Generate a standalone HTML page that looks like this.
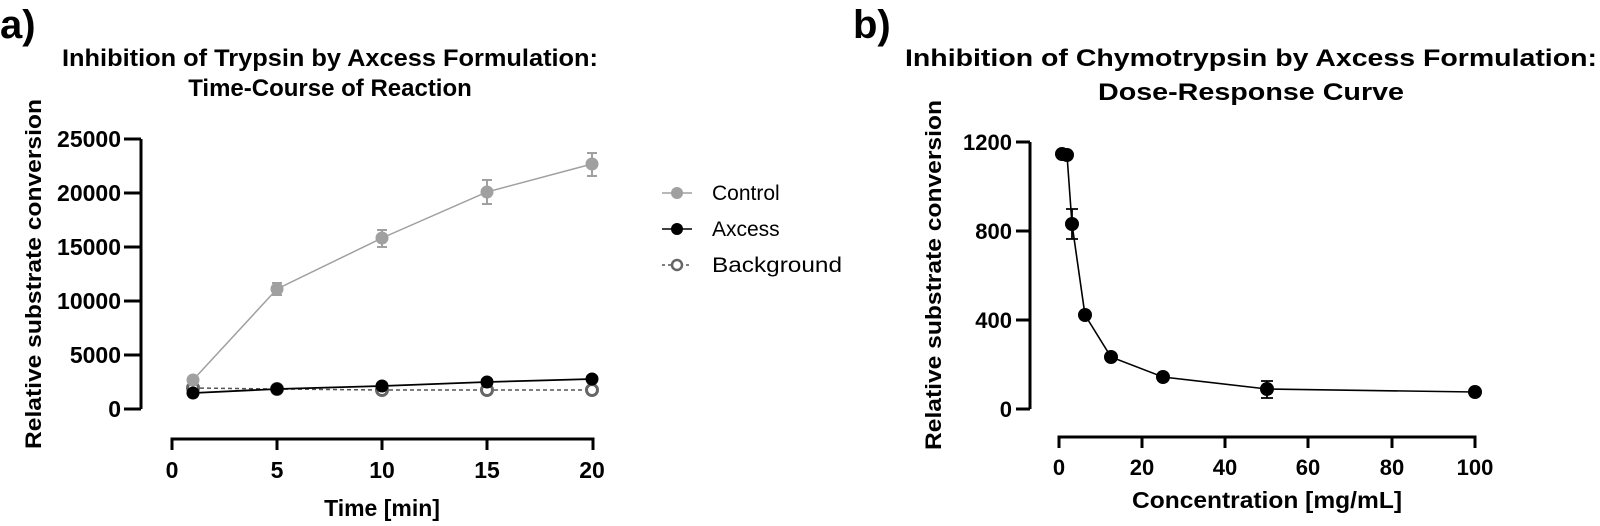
<!DOCTYPE html>
<html><head><meta charset="utf-8"><style>
html,body{margin:0;padding:0;background:#fff;}
svg{display:block;}
text{font-family:"Liberation Sans",Arial,sans-serif;}
.b{font-weight:bold;}
</style></head><body>
<svg width="1600" height="526" viewBox="0 0 1600 526" xmlns="http://www.w3.org/2000/svg">
<text x="0" y="38" class="b" font-size="40">a)</text>
<text x="853" y="38" class="b" font-size="40">b)</text>

<text x="330" y="66" class="b" font-size="24" text-anchor="middle" textLength="536" lengthAdjust="spacingAndGlyphs">Inhibition of Trypsin by Axcess Formulation:</text>
<text x="330" y="96" class="b" font-size="24" text-anchor="middle">Time-Course of Reaction</text>

<g stroke="#000" stroke-width="3" fill="none">
<path d="M141 139 V409"/>
<path d="M124 139 H141 M124 193 H141 M124 247 H141 M124 301 H141 M124 355 H141 M124 409 H141"/>
<path d="M172 450 V439 H593 V450 M277 439 V450 M382 439 V450 M487 439 V450"/>
</g>
<g font-size="23" text-anchor="end" font-weight="bold">
<text x="121" y="147">25000</text>
<text x="121" y="201">20000</text>
<text x="121" y="255">15000</text>
<text x="121" y="309">10000</text>
<text x="121" y="363">5000</text>
<text x="121" y="417">0</text>
</g>
<g font-size="23" text-anchor="middle" font-weight="bold">
<text x="172" y="478">0</text>
<text x="277" y="478">5</text>
<text x="382" y="478">10</text>
<text x="487" y="478">15</text>
<text x="592" y="478">20</text>
<text x="382" y="516" font-size="23">Time [min]</text>
</g>
<text transform="translate(41,274) rotate(-90)" font-size="22" font-weight="bold" text-anchor="middle" textLength="350" lengthAdjust="spacingAndGlyphs">Relative substrate conversion</text>

<polyline points="193,388 277,389 382,390 487,390 592,390" fill="none" stroke="#555" stroke-width="1.5" stroke-dasharray="4,3"/>
<g fill="#fff" stroke="#666" stroke-width="3">
<circle cx="193" cy="388" r="5.5"/><circle cx="277" cy="389" r="5.5"/><circle cx="382" cy="390" r="5.5"/><circle cx="487" cy="390" r="5.5"/><circle cx="592" cy="390" r="5.5"/>
</g>
<g stroke="#a0a0a0" stroke-width="2" fill="none">
<path d="M277 283 V295 M272 283 H282 M272 295 H282"/>
<path d="M382 230 V247 M377 230 H387 M377 247 H387"/>
<path d="M487 180 V204 M482 180 H492 M482 204 H492"/>
<path d="M592 153 V176 M587 153 H597 M587 176 H597"/>
<polyline points="193,380 277,289 382,238 487,192 592,164" stroke-width="1.5"/>
</g>
<g fill="#a0a0a0">
<circle cx="193" cy="380" r="6.5"/><circle cx="277" cy="289" r="6.5"/><circle cx="382" cy="238" r="6.5"/><circle cx="487" cy="192" r="6.5"/><circle cx="592" cy="164" r="6.5"/>
</g>
<polyline points="193,393 277,389 382,386 487,382 592,379" fill="none" stroke="#000" stroke-width="1.8"/>
<g fill="#000">
<circle cx="193" cy="393" r="6.5"/><circle cx="277" cy="389" r="6.5"/><circle cx="382" cy="386" r="6.5"/><circle cx="487" cy="382" r="6.5"/><circle cx="592" cy="379" r="6.5"/>
</g>

<path d="M662 193 H692" stroke="#a0a0a0" stroke-width="1.5"/><circle cx="677" cy="193" r="6" fill="#a0a0a0"/>
<path d="M662 229 H692" stroke="#000" stroke-width="1.5"/><circle cx="677" cy="229" r="6" fill="#000"/>
<path d="M662 265 H692" stroke="#555" stroke-width="1.5" stroke-dasharray="3,3"/><circle cx="677" cy="265" r="5" fill="#fff" stroke="#666" stroke-width="2.5"/>
<g font-size="21">
<text x="712" y="200">Control</text>
<text x="712" y="236">Axcess</text>
<text x="712" y="272" textLength="130" lengthAdjust="spacingAndGlyphs">Background</text>
</g>

<text x="1251" y="66" class="b" font-size="24" text-anchor="middle" textLength="692" lengthAdjust="spacingAndGlyphs">Inhibition of Chymotrypsin by Axcess Formulation:</text>
<text x="1251" y="100" class="b" font-size="24" text-anchor="middle" textLength="306" lengthAdjust="spacingAndGlyphs">Dose-Response Curve</text>

<g stroke="#000" stroke-width="3" fill="none">
<path d="M1030 142 V409"/>
<path d="M1016 142 H1030 M1016 231 H1030 M1016 320 H1030 M1016 409 H1030"/>
<path d="M1059 448 V437 H1475 V448 M1142 437 V448 M1225 437 V448 M1308 437 V448 M1392 437 V448"/>
</g>
<g font-size="22" text-anchor="end" font-weight="bold">
<text x="1012" y="150">1200</text>
<text x="1012" y="239">800</text>
<text x="1012" y="328">400</text>
<text x="1012" y="417">0</text>
</g>
<g font-size="22" text-anchor="middle" font-weight="bold">
<text x="1059" y="475">0</text>
<text x="1142" y="475">20</text>
<text x="1225" y="475">40</text>
<text x="1308" y="475">60</text>
<text x="1392" y="475">80</text>
<text x="1475" y="475">100</text>
<text x="1267" y="508" font-size="23" textLength="270" lengthAdjust="spacingAndGlyphs">Concentration [mg/mL]</text>
</g>
<text transform="translate(941,275) rotate(-90)" font-size="22" font-weight="bold" text-anchor="middle" textLength="350" lengthAdjust="spacingAndGlyphs">Relative substrate conversion</text>

<g stroke="#000" fill="none" stroke-width="1.8">
<path d="M1072 209 V239 M1066 209 H1078 M1066 239 H1078"/>
<path d="M1267 381 V398 M1261 381 H1273 M1261 398 H1273"/>
<polyline points="1062,155 1067,155 1072,224 1085,315 1111,357 1163,377 1267,389 1475,392" stroke-width="1.6"/>
</g>
<g fill="#000">
<circle cx="1062" cy="154" r="7"/><circle cx="1067" cy="155" r="7"/><circle cx="1072" cy="224" r="7"/><circle cx="1085" cy="315" r="7"/><circle cx="1111" cy="357" r="7"/><circle cx="1163" cy="377" r="7"/><circle cx="1267" cy="389" r="7"/><circle cx="1475" cy="392" r="7"/>
</g>
</svg>
</body></html>
